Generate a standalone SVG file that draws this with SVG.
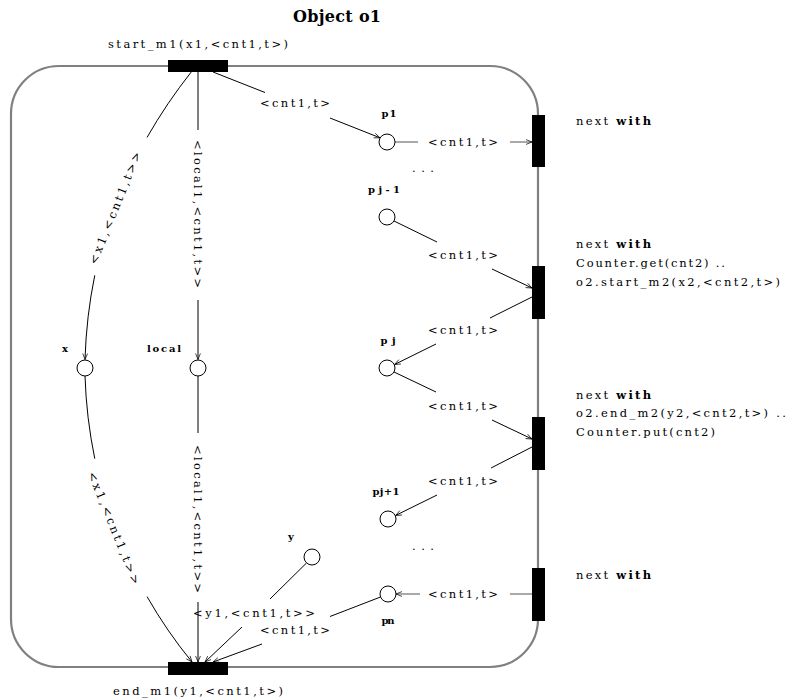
<svg xmlns="http://www.w3.org/2000/svg" width="788" height="698" viewBox="0 0 788 698">
  <style>
    .lbl { font-family: "DejaVu Serif", "Liberation Serif", serif; font-size: 11.5px; fill: #000; }
    .pl { font-family: "DejaVu Serif", "Liberation Serif", serif; font-size: 10px; font-weight: bold; fill: #000; }
    .ttl { font-family: "DejaVu Serif", "Liberation Serif", serif; font-size: 16px; font-weight: bold; fill: #000; }
    .arc { fill: none; stroke: #000; stroke-width: 1; }
    .arcg { fill: none; stroke: #555; stroke-width: 1; }
    .place { fill: #fff; stroke: #000; stroke-width: 1; }
    .trans { fill: #000; }
    .b { font-weight: bold; }
  </style>
  <defs>
    <marker id="arr" viewBox="0 0 10 10" refX="10" refY="5" markerWidth="8" markerHeight="6" markerUnits="userSpaceOnUse" orient="auto">
      <path d="M0,1 L10,5 L0,9" fill="none" stroke="#000" stroke-width="1.2"/>
    </marker>
  </defs>
  <rect width="788" height="698" fill="#fff"/>

  <!-- object boundary -->
  <rect id="object-o1" x="11" y="66" width="527" height="601" rx="48" ry="48" fill="none" stroke="#808080" stroke-width="2.2"/>
  <text class="ttl" x="337" y="22" text-anchor="middle" textLength="88" lengthAdjust="spacing">Object o1</text>

  <!-- connectors -->
  <g id="connectors">
    <!-- start_m1 -> x -->
    <path class="arc" d="M192,71 Q166.5,103.25 147.06,137.4"/>
    <path class="arc" d="M94.78,275.33 Q86.35,316.07 85,359.5" marker-end="url(#arr)"/>
    <!-- start_m1 -> local -->
    <path class="arc" d="M198,72 L198,130"/>
    <path class="arc" d="M198,300 L198,359.5" marker-end="url(#arr)"/>
    <!-- start_m1 -> p1 -->
    <path class="arc" d="M213,72 L265,92.5"/>
    <path class="arc" d="M330,118 L380,137.8" marker-end="url(#arr)"/>
    <!-- p1 -> next -->
    <path class="arcg" d="M394,142 L418,142"/>
    <path class="arcg" d="M510,142 L532,142" marker-end="url(#arr)"/>
    <!-- pj-1 -> next/get -->
    <path class="arc" d="M394,221 L437,242"/>
    <path class="arc" d="M492,269 L532,288" marker-end="url(#arr)"/>
    <!-- next/get -> pj -->
    <path class="arc" d="M532,297 L490,318"/>
    <path class="arc" d="M436,344 L394.5,364.5" marker-end="url(#arr)"/>
    <!-- pj -> next/put -->
    <path class="arc" d="M394,372 L436,392"/>
    <path class="arc" d="M492,420 L532,439" marker-end="url(#arr)"/>
    <!-- next/put -> pj+1 -->
    <path class="arc" d="M532,447 L491,468"/>
    <path class="arc" d="M437,495 L395.5,515.5" marker-end="url(#arr)"/>
    <!-- next -> pn -->
    <path class="arcg" d="M532,594 L510,594"/>
    <path class="arcg" d="M420,594 L396,594" marker-end="url(#arr)"/>
    <!-- x -> end_m1 -->
    <path class="arc" d="M85,376 Q86.35,417.93 94.78,458.67"/>
    <path class="arc" d="M147.06,596.6 Q166.5,630.75 192,662" marker-end="url(#arr)"/>
    <!-- local -> end_m1 -->
    <path class="arc" d="M198,376 L198,433"/>
    <path class="arc" d="M198,602 L198,662" marker-end="url(#arr)"/>
    <!-- y -> end_m1 -->
    <path class="arc" d="M306.5,563 L270,599"/>
    <path class="arc" d="M242,627 L205,662" marker-end="url(#arr)"/>
    <!-- pn -> end_m1 -->
    <path class="arc" d="M380.5,597 L330,616.5"/>
    <path class="arc" d="M262,644 L213,662" marker-end="url(#arr)"/>

    <!-- arc inscriptions -->
    <text class="lbl" transform="translate(115,208) rotate(-68)" x="0" y="4" text-anchor="middle" textLength="120" lengthAdjust="spacing">&lt;x1,&lt;cnt1,t&gt;&gt;</text>
    <text class="lbl" transform="translate(194,214) rotate(90)" x="0" y="0" text-anchor="middle" textLength="148" lengthAdjust="spacing">&lt;local1,&lt;cnt1,t&gt;&gt;</text>
    <text class="lbl" x="295" y="107" text-anchor="middle" textLength="70" lengthAdjust="spacing">&lt;cnt1,t&gt;</text>
    <text class="lbl" x="463" y="146" text-anchor="middle" textLength="70" lengthAdjust="spacing">&lt;cnt1,t&gt;</text>
    <text class="lbl" x="463" y="259" text-anchor="middle" textLength="70" lengthAdjust="spacing">&lt;cnt1,t&gt;</text>
    <text class="lbl" x="463" y="334" text-anchor="middle" textLength="70" lengthAdjust="spacing">&lt;cnt1,t&gt;</text>
    <text class="lbl" x="463" y="410" text-anchor="middle" textLength="70" lengthAdjust="spacing">&lt;cnt1,t&gt;</text>
    <text class="lbl" x="463" y="485" text-anchor="middle" textLength="70" lengthAdjust="spacing">&lt;cnt1,t&gt;</text>
    <text class="lbl" x="463" y="598" text-anchor="middle" textLength="70" lengthAdjust="spacing">&lt;cnt1,t&gt;</text>
    <text class="lbl" transform="translate(114,528) rotate(68)" x="0" y="4" text-anchor="middle" textLength="120" lengthAdjust="spacing">&lt;x1,&lt;cnt1,t&gt;&gt;</text>
    <text class="lbl" transform="translate(194,519) rotate(90)" x="0" y="0" text-anchor="middle" textLength="148" lengthAdjust="spacing">&lt;local1,&lt;cnt1,t&gt;&gt;</text>
    <text class="lbl" x="254" y="617" text-anchor="middle" textLength="122" lengthAdjust="spacing">&lt;y1,&lt;cnt1,t&gt;&gt;</text>
    <text class="lbl" x="295" y="634" text-anchor="middle" textLength="70" lengthAdjust="spacing">&lt;cnt1,t&gt;</text>
    <text class="lbl" x="423" y="172" text-anchor="middle" textLength="22" lengthAdjust="spacing">. . .</text>
    <text class="lbl" x="423" y="550" text-anchor="middle" textLength="22" lengthAdjust="spacing">. . .</text>
  </g>

  <!-- transitions -->
  <g id="t-start-m1">
    <rect class="trans" x="168" y="60" width="60" height="12"/>
    <text class="lbl" x="108" y="48" textLength="180" lengthAdjust="spacing">start_m1(x1,&lt;cnt1,t&gt;)</text>
  </g>
  <g id="t-end-m1">
    <rect class="trans" x="168" y="662" width="60" height="13"/>
    <text class="lbl" x="113" y="695" textLength="170" lengthAdjust="spacing">end_m1(y1,&lt;cnt1,t&gt;)</text>
  </g>
  <g id="t-next-1">
    <rect class="trans" x="532" y="115" width="13" height="52"/>
    <text class="lbl" x="576" y="125" textLength="75" lengthAdjust="spacing">next <tspan class="b">with</tspan></text>
  </g>
  <g id="t-next-get">
    <rect class="trans" x="532" y="266" width="13" height="53"/>
    <text class="lbl" x="576" y="248" textLength="75" lengthAdjust="spacing">next <tspan class="b">with</tspan></text>
    <text class="lbl" x="576" y="267" textLength="149" lengthAdjust="spacing">Counter.get(cnt2) ..</text>
    <text class="lbl" x="576" y="286" textLength="204" lengthAdjust="spacing">o2.start_m2(x2,&lt;cnt2,t&gt;)</text>
  </g>
  <g id="t-next-put">
    <rect class="trans" x="532" y="417" width="13" height="53"/>
    <text class="lbl" x="576" y="399" textLength="75" lengthAdjust="spacing">next <tspan class="b">with</tspan></text>
    <text class="lbl" x="576" y="417" textLength="210" lengthAdjust="spacing">o2.end_m2(y2,&lt;cnt2,t&gt;) ..</text>
    <text class="lbl" x="576" y="436" textLength="139" lengthAdjust="spacing">Counter.put(cnt2)</text>
  </g>
  <g id="t-next-n">
    <rect class="trans" x="532" y="568" width="13" height="53"/>
    <text class="lbl" x="576" y="579" textLength="75" lengthAdjust="spacing">next <tspan class="b">with</tspan></text>
  </g>

  <!-- places -->
  <g id="p-x">
    <circle class="place" cx="85" cy="368" r="8"/>
    <text class="pl" x="65" y="352" text-anchor="middle">x</text>
  </g>
  <g id="p-local">
    <circle class="place" cx="198" cy="368" r="8"/>
    <text class="pl" x="164" y="352" text-anchor="middle" textLength="34" lengthAdjust="spacing">local</text>
  </g>
  <g id="p-y">
    <circle class="place" cx="312" cy="557" r="8"/>
    <text class="pl" x="291" y="540" text-anchor="middle">y</text>
  </g>
  <g id="p-1">
    <circle class="place" cx="387" cy="142" r="8"/>
    <text class="pl" x="389" y="117" text-anchor="middle" textLength="15" lengthAdjust="spacing">p1</text>
  </g>
  <g id="p-j-1">
    <circle class="place" cx="387" cy="217" r="8"/>
    <text class="pl" x="384" y="193" text-anchor="middle" textLength="32" lengthAdjust="spacing">pj-1</text>
  </g>
  <g id="p-j">
    <circle class="place" cx="387" cy="368" r="8"/>
    <text class="pl" x="388" y="344" text-anchor="middle" textLength="15" lengthAdjust="spacing">pj</text>
  </g>
  <g id="p-j+1">
    <circle class="place" cx="388" cy="519" r="8"/>
    <text class="pl" x="386" y="495" text-anchor="middle" textLength="27" lengthAdjust="spacing">pj+1</text>
  </g>
  <g id="p-n">
    <circle class="place" cx="388" cy="594" r="8"/>
    <text class="pl" x="388" y="624" text-anchor="middle" textLength="13" lengthAdjust="spacing">pn</text>
  </g>
</svg>
